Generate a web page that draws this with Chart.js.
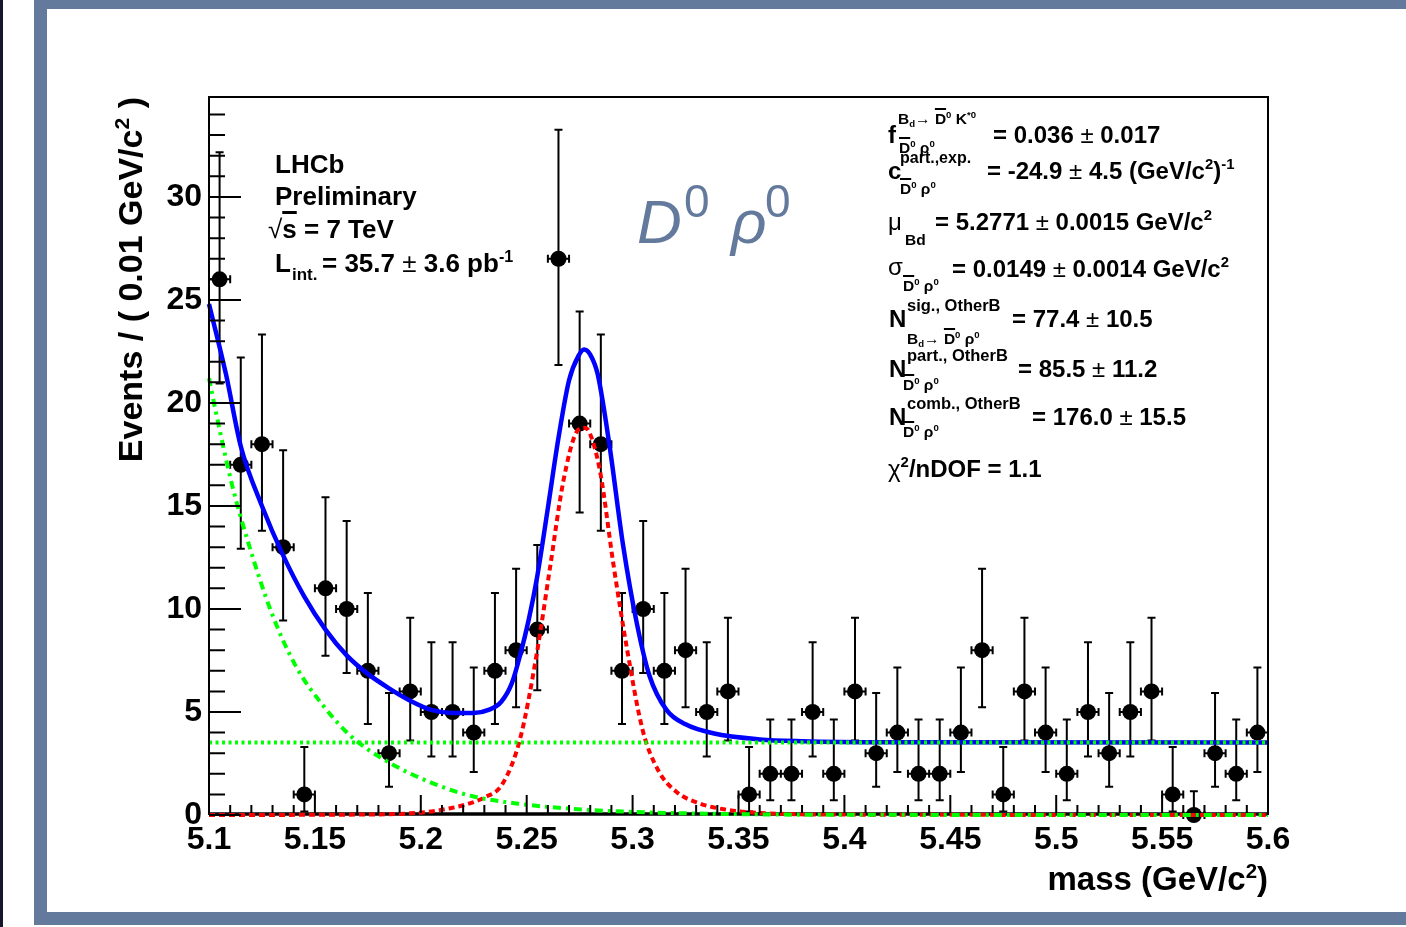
<!DOCTYPE html>
<html>
<head>
<meta charset="utf-8">
<script src="https://cdn.jsdelivr.net/npm/chart.js@4.4.0/dist/chart.umd.min.js"></script>
<style>
  html, body { margin: 0; padding: 0; background: #fff; }
  #page { position: relative; width: 1406px; height: 927px; overflow: hidden; background: #fff; }
  #strip { position: absolute; left: 0; top: 0; width: 3px; height: 927px; background: #16162a; }
  #frame { position: absolute; left: 34px; top: 0; width: 1359px; height: 903px;
           border-left: 13px solid #647a9c; border-top: 9px solid #647a9c; border-bottom: 13px solid #647a9c; }
  #chartBox { position: absolute; left: 0; top: 0; width: 1406px; height: 927px; }
  .t { position: absolute; font-family: "Liberation Sans", Arial, Helvetica, sans-serif; font-weight: bold;
       line-height: 1; white-space: nowrap; color: #000; }
  .t sup { font-size: 0.62em; vertical-align: 0; position: relative; top: -0.62em; }
  .t sub { font-size: 0.62em; vertical-align: 0; position: relative; top: 0.3em; }
  .ov { text-decoration: overline; text-decoration-thickness: 0.12em; }
  .n { font-weight: normal; }
  .ttl { position: absolute; font-family: "Liberation Sans", Arial, sans-serif; font-weight: bold;
         line-height: 1; white-space: nowrap; color: #000; }
  .ttl sup { font-size: 0.62em; vertical-align: 0; position: relative; top: -0.6em; }
  .decay { color: #647a9c; font-weight: normal; }
</style>
</head>
<body>
<div id="page">
  <div id="strip"></div>
  <div id="frame"></div>
  <div id="chartBox"><canvas id="fitChart"></canvas></div>
  <span class="ttl" id="yTitle" style="left:113px; top:497px; width:400px; text-align:right; font-size:34px; transform-origin:0 0; transform:rotate(-90deg);">Events / ( 0.01 GeV/c<sup>2</sup> )</span>
  <span class="ttl" id="xTitle" style="right:138px; top:862px; font-size:33px;">mass (GeV/c<sup>2</sup>)</span>
</div>
<script>
// bin centres (GeV/c2) and events per bin
const massBins = [5.105, 5.115, 5.125, 5.135, 5.145, 5.155, 5.165, 5.175, 5.185, 5.195,
                  5.205, 5.215, 5.225, 5.235, 5.245, 5.255, 5.265, 5.275, 5.285, 5.295,
                  5.305, 5.315, 5.325, 5.335, 5.345, 5.355, 5.365, 5.375, 5.385, 5.395,
                  5.405, 5.415, 5.425, 5.435, 5.445, 5.455, 5.465, 5.475, 5.485, 5.495,
                  5.505, 5.515, 5.525, 5.535, 5.545, 5.555, 5.565, 5.575, 5.585, 5.595];
const counts = [26, 17, 18, 13, 1, 11, 10, 7, 3, 6,
                5, 5, 4, 7, 8, 9, 27, 19, 18, 7,
                10, 7, 8, 5, 6, 1, 2, 2, 5, 2,
                6, 3, 4, 2, 2, 4, 8, 1, 6, 4,
                2, 5, 3, 5, 6, 1, 0, 3, 2, 4];
const binHalfWidth = 0.005;

// poisson error band ends, indexed by number of events
const poissonLow  = [0, 0.17, 0.71, 1.37, 2.09, 2.84, 3.62, 4.42, 5.23, 6.06, 6.89, 7.73, 8.58, 9.44,
                     10.30, 11.17, 12.04, 12.92, 13.80, 14.68, 15.57, 16.45, 17.35, 18.24, 19.14, 20.04, 20.94, 21.84];
const poissonHigh = [1.15, 3.30, 4.64, 5.92, 7.16, 8.38, 9.58, 10.77, 11.95, 13.11, 14.27, 15.42, 16.56, 17.70,
                     18.83, 19.96, 21.08, 22.20, 23.32, 24.44, 25.55, 26.66, 27.76, 28.87, 29.97, 31.07, 32.17, 33.26];

// total fit (blue)
const totalX = [5.100, 5.108, 5.115, 5.125, 5.135, 5.145, 5.155, 5.165, 5.175, 5.185, 5.195, 5.205, 5.215,
                5.225, 5.232, 5.238, 5.243, 5.247, 5.251, 5.255, 5.260, 5.265, 5.270, 5.2745, 5.2771, 5.280,
                5.2835, 5.289, 5.2955, 5.302, 5.308, 5.316, 5.325, 5.338, 5.360, 5.380, 5.420, 5.600];
const totalY = [24.8, 21.4, 17.9, 15.0, 12.6, 10.6, 9.0, 7.75, 6.85, 6.15, 5.55, 5.1, 4.95,
                4.95, 5.1, 5.5, 6.4, 7.8, 9.5, 11.6, 14.9, 18.3, 21.1, 22.3, 22.6, 22.35,
                21.4, 18.0, 13.1, 9.3, 6.75, 5.1, 4.4, 3.97, 3.67, 3.58, 3.53, 3.52];

// signal component (red dashed)
const signalX = [5.100, 5.180, 5.195, 5.205, 5.214, 5.221, 5.230, 5.2385, 5.2469, 5.2547, 5.261, 5.2673, 5.2736,
                 5.2771, 5.2795, 5.2846, 5.2909, 5.2973, 5.3048, 5.3122, 5.3206, 5.331, 5.343, 5.360, 5.400, 5.600];
const signalY = [0, 0.03, 0.08, 0.17, 0.33, 0.5, 0.85, 1.5, 3.7, 7.8, 12.0, 16.2, 18.6,
                 18.8, 18.6, 16.7, 12.2, 8.1, 4.1, 2.15, 1.13, 0.58, 0.28, 0.1, 0.02, 0];

// partially reconstructed component (green dash-dot)
const partX = [5.100, 5.1044, 5.1107, 5.1186, 5.1296, 5.1406, 5.1532, 5.1673, 5.185, 5.2054, 5.224, 5.246,
               5.270, 5.300, 5.350, 5.400, 5.600];
const partY = [21.2, 19.0, 16.1, 13.2, 9.8, 7.3, 5.4, 3.8, 2.55, 1.55, 0.92, 0.55,
               0.31, 0.15, 0.04, 0.01, 0];

// combinatorial component (green dotted)
const combX = [5.100, 5.600];
const combY = [3.52, 3.52];

// axis ticks
const xTicks = [5.1, 5.15, 5.2, 5.25, 5.3, 5.35, 5.4, 5.45, 5.5, 5.55, 5.6];
const xTickLabels = ['5.1', '5.15', '5.2', '5.25', '5.3', '5.35', '5.4', '5.45', '5.5', '5.55', '5.6'];
const yTicks = [0, 5, 10, 15, 20, 25, 30];
const yTickLabels = ['0', '5', '10', '15', '20', '25', '30'];

const toXY = (xs, ys) => xs.map((v, i) => ({x: v, y: ys[i]}));

// error bars + x axis line under the curves, frame and inward ticks on top (ROOT look)
const rootPlot = {
    id: 'rootPlot',
    beforeDatasetsDraw: (chart) => {
        const {ctx, chartArea: a, scales: {x, y}} = chart;
        ctx.save();
        ctx.strokeStyle = '#000';
        ctx.lineWidth = 3.5;
        ctx.beginPath();
        ctx.moveTo(a.left, a.bottom - 1); ctx.lineTo(a.right, a.bottom - 1);
        ctx.stroke();
        ctx.lineWidth = 2;
        ctx.beginPath();
        massBins.forEach((m, i) => {
            const n = counts[i];
            const px = x.getPixelForValue(m);
            const py = y.getPixelForValue(n);
            const lo = y.getPixelForValue(poissonLow[n]);
            const hi = y.getPixelForValue(poissonHigh[n]);
            const l = x.getPixelForValue(m - binHalfWidth);
            const r = x.getPixelForValue(m + binHalfWidth);
            ctx.moveTo(px, lo); ctx.lineTo(px, hi);
            ctx.moveTo(px - 4, hi); ctx.lineTo(px + 4, hi);
            if (n > 0) { ctx.moveTo(px - 4, lo); ctx.lineTo(px + 4, lo); }
            ctx.moveTo(l, py); ctx.lineTo(r, py);
            ctx.moveTo(l, py - 4); ctx.lineTo(l, py + 4);
            ctx.moveTo(r, py - 4); ctx.lineTo(r, py + 4);
        });
        ctx.stroke();
        ctx.restore();
    },
    afterDatasetsDraw: (chart) => {
        const {ctx, chartArea: a, scales: {x, y}} = chart;
        ctx.save();
        ctx.strokeStyle = '#000';
        ctx.lineWidth = 2;
        ctx.beginPath();
        ctx.moveTo(a.left, a.bottom);
        ctx.lineTo(a.left, a.top);
        ctx.lineTo(a.right, a.top);
        ctx.lineTo(a.right, a.bottom);
        for (let v = 0; v <= 34; v++) {
            const py = y.getPixelForValue(v);
            ctx.moveTo(a.left, py);
            ctx.lineTo(a.left + (v % 5 === 0 ? 32 : 16), py);
        }
        for (let k = 0; k <= 50; k++) {
            const px = x.getPixelForValue(5.1 + k * 0.01);
            ctx.moveTo(px, a.bottom - 2);
            ctx.lineTo(px, a.bottom - (k % 5 === 0 ? 20 : 10));
        }
        ctx.stroke();
        ctx.restore();
    }
};

const tickFont = {family: '"Liberation Sans", Arial, sans-serif', size: 32, weight: 'bold'};

const ctx = document.getElementById('fitChart').getContext('2d');
const fitChart = new Chart(ctx, {
    type: 'line',
    data: {
        datasets: [{
            label: 'data',
            data: toXY(massBins, counts),
            showLine: false,
            pointRadius: 8,
            pointHoverRadius: 8,
            pointBackgroundColor: '#000',
            pointBorderWidth: 0,
            clip: false,
            order: 5
        }, {
            label: 'total',
            data: toXY(totalX, totalY),
            borderColor: '#0000ff',
            borderWidth: 4.5,
            pointRadius: 0,
            cubicInterpolationMode: 'monotone',
            clip: 3,
            order: 4
        }, {
            label: 'signal',
            data: toXY(signalX, signalY),
            borderColor: '#ff0000',
            borderWidth: 4,
            borderDash: [6, 4],
            pointRadius: 0,
            cubicInterpolationMode: 'monotone',
            clip: 3,
            order: 3
        }, {
            label: 'partial',
            data: toXY(partX, partY),
            borderColor: '#00ff00',
            borderWidth: 4,
            borderDash: [8, 5, 3, 5],
            pointRadius: 0,
            cubicInterpolationMode: 'monotone',
            clip: 3,
            order: 2
        }, {
            label: 'combinatorial',
            data: toXY(combX, combY),
            borderColor: '#00ff00',
            borderWidth: 4,
            borderDash: [3, 3.5],
            pointRadius: 0,
            clip: 3,
            order: 1
        }]
    },
    options: {
        responsive: true,
        maintainAspectRatio: false,
        devicePixelRatio: 1,
        animation: false,
        events: [],
        layout: {padding: {left: 0, top: 97, right: 138, bottom: 52}},
        plugins: {
            legend: {display: false},
            tooltip: {enabled: false}
        },
        scales: {
            x: {
                type: 'linear',
                min: 5.1,
                max: 5.6,
                grid: {display: false},
                border: {display: false},
                afterFit: (scale) => { scale.height = 60; },
                afterBuildTicks: (scale) => { scale.ticks = xTicks.map(v => ({value: v})); },
                ticks: {
                    autoSkip: false,
                    maxRotation: 0,
                    padding: -2,
                    color: '#000',
                    font: tickFont,
                    callback: (value, idx) => xTickLabels[idx]
                }
            },
            y: {
                type: 'linear',
                min: 0,
                max: 34.85,
                grid: {display: false},
                border: {display: false},
                afterFit: (scale) => { scale.width = 209; },
                afterBuildTicks: (scale) => { scale.ticks = yTicks.map(v => ({value: v})); },
                ticks: {
                    autoSkip: false,
                    padding: -1,
                    color: '#000',
                    font: tickFont,
                    callback: (value, idx) => yTickLabels[idx]
                }
            }
        }
    },
    plugins: [rootPlot]
});

// text boxes (x, baseline, font size)
const put = (html, x, base, size, cls) => {
    const el = document.createElement('span');
    el.className = 't' + (cls ? ' ' + cls : '');
    el.innerHTML = html;
    el.style.left = x + 'px';
    el.style.top = (base - 0.8465 * size) + 'px';
    el.style.fontSize = size + 'px';
    document.getElementById('page').appendChild(el);
};

const dRho = '<span class="ov">D</span><sup>0</sup> ρ<sup>0</sup>';

put('LHCb', 275, 173, 26);
put('Preliminary', 275, 205, 26);
put('<span class="n">√</span><span class="ov">s</span> = 7 TeV', 268, 238, 26);
put('L', 275, 272, 26);
put('int.', 292, 280, 17);
put('= 35.7 <span class="n">±</span> 3.6 pb<sup>-1</sup>', 322, 272, 26);

put('<i>D</i>', 637, 243, 62, 'decay');
put('0', 684, 217, 46, 'decay');
put('<i>ρ</i>', 731, 243, 62, 'decay');
put('0', 765, 217, 46, 'decay');

put('f', 888, 143, 24);
put('B<sub>d</sub><span class="n">→</span> <span class="ov">D</span><sup>0</sup> K<sup>*0</sup>', 898, 124, 15.5);
put(dRho, 899, 153, 15.5);
put('= 0.036 <span class="n">±</span> 0.017', 993, 143, 24);

put('c', 888, 179, 24);
put('part.,exp.', 900, 164, 16);
put(dRho, 900, 194, 15.5);
put('= -24.9 <span class="n">±</span> 4.5 (GeV/c<sup>2</sup>)<sup>-1</sup>', 987, 179, 24);

put('μ', 888, 230, 24, 'n');
put('Bd', 905, 245, 15.5);
put('= 5.2771 <span class="n">±</span> 0.0015 GeV/c<sup>2</sup>', 935, 230, 24);

put('σ', 888, 275, 24, 'n');
put(dRho, 903, 291, 15.5);
put('= 0.0149 <span class="n">±</span> 0.0014 GeV/c<sup>2</sup>', 952, 277, 24);

put('N', 889, 327, 24);
put('sig., OtherB', 907, 311, 16.5);
put('B<sub>d</sub><span class="n">→</span> ' + dRho, 907, 344, 15.5);
put('= 77.4 <span class="n">±</span> 10.5', 1012, 327, 24);

put('N', 889, 377, 24);
put('part., OtherB', 907, 361, 16.5);
put(dRho, 903, 390, 15.5);
put('= 85.5 <span class="n">±</span> 11.2', 1018, 377, 24);

put('N', 889, 425, 24);
put('comb., OtherB', 907, 409, 16.5);
put(dRho, 903, 437, 15.5);
put('= 176.0 <span class="n">±</span> 15.5', 1032, 425, 24);

put('<span class="n">χ</span><sup>2</sup>/nDOF = 1.1', 888, 477, 24);
</script>
</body>
</html>
